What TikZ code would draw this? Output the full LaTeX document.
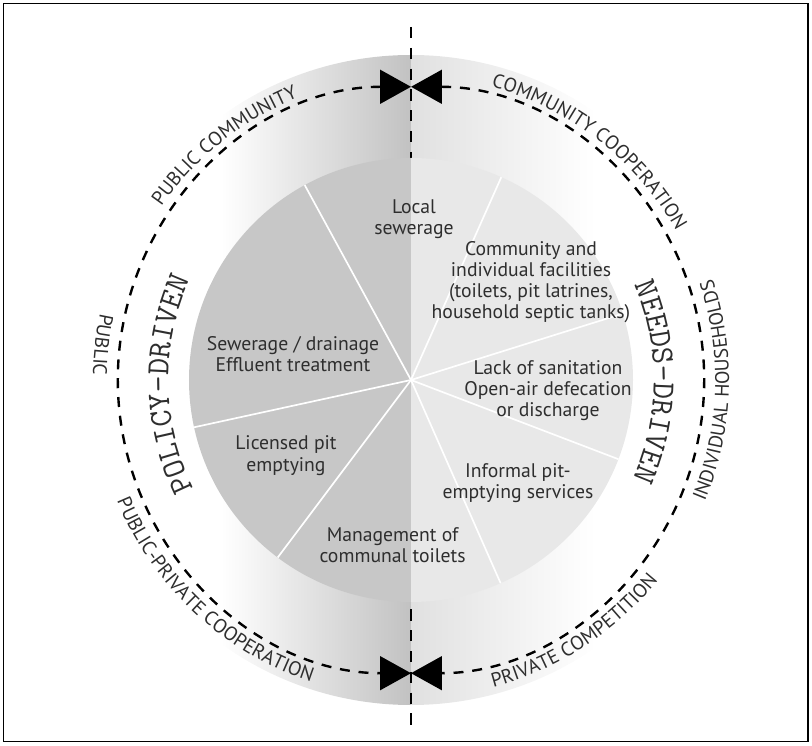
\documentclass[tikz,border=0pt]{standalone}
\usepackage{fontspec}
\setmainfont{PT Sans}
\usetikzlibrary{arrows.meta,decorations.text}
\definecolor{pieleft}{gray}{0.78}
\definecolor{pieright}{gray}{0.91}
\definecolor{ringleft}{gray}{0.76}
\definecolor{ringright}{gray}{0.88}
\definecolor{inkgray}{gray}{0.18}
\newcommand\ringfont{\color{inkgray}\fontsize{14}{16}\selectfont}
\newcommand\drivenfont{\color{inkgray}\fontsize{23}{25}\selectfont\ttfamily}

\begin{document}
\begin{tikzpicture}
        \tikzstyle{every node}=[text=inkgray,font=\fontsize{14}{15}\selectfont,align=center]
        \tikzstyle{spoke}=[white,line width=1.2pt]
        \tikzstyle{axis}=[dash pattern=on 0.28cm off 0.24cm,line width=1.7pt]
        \tikzstyle{ring}=[dash pattern=on 0.25cm off 0.22cm,line width=1.7pt]
        \tikzstyle{bowtie}=[{Triangle[length=0.77cm,width=0.84cm]}-{Triangle[length=0.77cm,width=0.84cm]}]
        \tikzstyle{along}=[decorate,decoration={text along path,text align=center}]
        \useasboundingbox (-10.275,-9.125) rectangle (10.025,9.5);
        \draw[line width=1pt] (-10.19,-9.04) rectangle (9.925,9.41);
        \begin{scope}
          \clip (0,0) circle (8.125);
          \shade[left color=white,right color=ringleft] (-4.75,-8.2) rectangle (0,8.2);
          \shade[left color=ringright,right color=white] (0,-8.2) rectangle (4.6,8.2);
        \end{scope}
        \coordinate (top) at (0,8.825);
        \coordinate (bottom) at (0,-8.8);
        \draw[axis] (top) -- (bottom);
        \fill[pieleft] (0,0) -- (90:5.55) arc[start angle=90,end angle=270,radius=5.55] -- cycle;
        \fill[pieright] (0,0) -- (-90:5.55) arc[start angle=-90,end angle=90,radius=5.55] -- cycle;
        \foreach \a in {17.4,66,118.6,192.3,233.1,293.8,339.1}
          \draw[spoke] (0,0) -- (\a:5.55);
        \draw[ring,bowtie] (90:7.33) arc[start angle=90,end angle=270,radius=7.33];
        \draw[ring,bowtie] (90:7.33) arc[start angle=90,end angle=-90,radius=7.33];
        \path[along,decoration={text={|\ringfont|PUBLIC COMMUNITY}}] (158.5:7.6) arc[start angle=158.5,end angle=98.5,radius=7.6];
        \path[along,decoration={text={|\ringfont|COMMUNITY COOPERATION}}] (92:7.6) arc[start angle=92,end angle=12,radius=7.6];
        \path[along,decoration={text={|\ringfont|PUBLIC}}] (153.5:7.95) arc[start angle=153.5,end angle=193.5,radius=7.95];
        \path[along,decoration={text={|\ringfont|PUBLIC-PRIVATE COOPERATION}}] (187:7.95) arc[start angle=187,end angle=267,radius=7.95];
        \path[along,decoration={text={|\ringfont|PRIVATE COMPETITION}}] (268:7.95) arc[start angle=268,end angle=338,radius=7.95];
        \path[along,decoration={text={|\ringfont|INDIVIDUAL HOUSEHOLDS}}] (-40:7.95) arc[start angle=-40,end angle=36,radius=7.95];
        \path[along,decoration={text={|\drivenfont|POLICY-DRIVEN}}] (216:6.07) arc[start angle=216,end angle=146,radius=6.07];
        \path[along,decoration={text={|\drivenfont|NEEDS-DRIVEN}}] (35:6.07) arc[start angle=35,end angle=-36,radius=6.07];
        \node (local) at (0.075,4.025) {Local\\sewerage};
        \node (facilities) at (3.0,2.45) {Community and\\individual facilities\\(toilets, pit latrines,\\household septic tanks)};
        \node (lack) at (3.425,-0.275) {Lack of sanitation\\Open-air defecation\\or discharge};
        \node (informal) at (2.675,-2.575) {Informal pit-\\emptying services};
        \node (communal) at (-0.46,-4.14) {Management of\\communal toilets};
        \node (licensed) at (-3.125,-1.89) {Licensed pit\\emptying};
        \node (sewerage) at (-2.95,0.65) {Sewerage / drainage\\Effluent treatment};
\end{tikzpicture}
\end{document}
